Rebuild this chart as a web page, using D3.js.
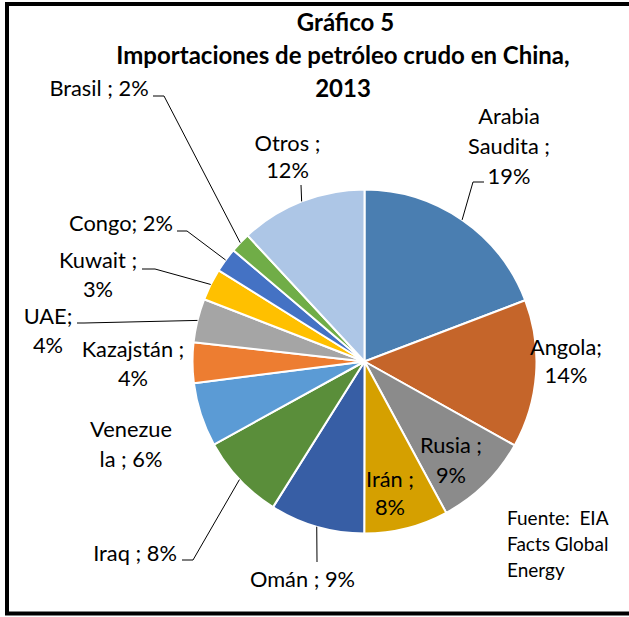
<!DOCTYPE html>
<html>
<head>
    <meta charset="utf-8">
    <title>Gráfico 5 - Importaciones de petróleo crudo en China, 2013</title>
    <script src="https://cdnjs.cloudflare.com/ajax/libs/d3/7.8.5/d3.min.js"></script>
    <style>
        body {
            margin: 0;
            background: #ffffff;
            overflow: hidden;
        }
        .title {
            font-family: Lato, "Liberation Sans", sans-serif;
            font-weight: bold;
            font-size: 24px;
            fill: #000;
        }
        .lbl {
            font-family: Lato, "Liberation Sans", sans-serif;
            font-size: 21.8px;
            fill: #000;
        }
        .src {
            font-family: Lato, "Liberation Sans", sans-serif;
            font-size: 19px;
            fill: #000;
        }
        .leader {
            fill: none;
            stroke: #000;
            stroke-width: 1;
        }
    </style>
</head>
<body>
    <svg id="chart"></svg>

    <script>
        const width = 629;
        const height = 617;

        // data (clockwise from 12 o'clock)
        const paises = ["Arabia Saudita", "Angola", "Rusia", "Irán", "Omán", "Iraq",
            "Venezuela", "Kazajstán", "UAE", "Kuwait", "Congo", "Brasil", "Otros"];
        const cuota = [19.2, 13.9, 9.0, 7.9, 8.9, 8.05, 6.0, 3.8, 4.1, 3.0, 2.3, 1.9, 11.9];
        // label text as Excel wrapped it; the percentage is appended
        const etiquetas = ["Arabia\nSaudita ;\n", "Angola;\n", "Rusia ;\n", "Irán ;\n", "Omán ; ",
            "Iraq ; ", "Venezue\nla ; ", "Kazajstán ;\n", "UAE;\n", "Kuwait ;\n", "Congo; ",
            "Brasil ; ", "Otros ;\n"];
        const colores = ["#4a7eb1", "#c5652a", "#8b8b8b", "#d5a000", "#375ea5", "#5a8e3a",
            "#5b9bd5", "#ed7d31", "#a5a5a5", "#ffc000", "#4472c4", "#70ad47", "#adc6e6"];
        const titulo = ["Gráfico 5", "Importaciones de petróleo crudo en China,", "2013"];
        const fuente = ["Fuente:  EIA", "Facts Global", "Energy"];

        // label layout (offsets from pie centre): text centre x, first baseline y, leader elbow, leader end
        const layout = [
            {x: 144.5, y: -238, lh: 30, elbow: [108.5, -179.5], end: [119.5, -179.5]},
            {x: 201.5, y: -6.5, lh: 28},
            {x: 86.5, y: 91.5, lh: 30},
            {x: 25.5, y: 125.5, lh: 28},
            {x: -62, y: 225.5, elbow: [-47.5, 200.5], end: [-47.5, 200.5]},
            {x: -229.5, y: 199.5, elbow: [-171.5, 198.5], end: [-182.5, 198.5]},
            {x: -233.5, y: 75.5, lh: 30},
            {x: -231.5, y: -4.5, lh: 29},
            {x: -316.5, y: -37.5, lh: 29, elbow: [-280.5, -38.5], end: [-287.5, -38.5]},
            {x: -266.5, y: -93.5, lh: 29, elbow: [-209.5, -92.5], end: [-222.5, -92.5]},
            {x: -243.5, y: -130.5, elbow: [-177.5, -130.5], end: [-187.5, -130.5]},
            {x: -265.5, y: -265.5, elbow: [-200.5, -265.5], end: [-211.5, -265.5]},
            {x: -77, y: -211, lh: 27, elbow: [-63.5, -176.5], end: [-63.5, -176.5]}
        ];

        const cx = 364.5, cy = 361.5, radius = 172;

        const svg = d3.select("#chart")
            .attr("width", width)
            .attr("height", height);

        // white chart area with thick black frame (right side runs off the picture)
        svg.append("rect")
            .attr("x", 7)
            .attr("y", 4)
            .attr("width", 640)
            .attr("height", 609.5)
            .attr("fill", "#fff")
            .attr("stroke", "#000")
            .attr("stroke-width", 4);

        // title
        svg.append("g")
            .selectAll("text")
            .data(titulo)
            .enter().append("text")
            .attr("class", "title")
            .attr("x", (d, i) => i === 0 ? 345.5 : 343)
            .attr("y", (d, i) => 31 + i * 33)
            .attr("text-anchor", "middle")
            .text(d => d);

        const pie = d3.pie().sort(null).value(d => d.v);
        const arcs = pie(paises.map((p, i) => ({pais: p, v: cuota[i], i: i})));

        const arc = d3.arc().innerRadius(0).outerRadius(radius);
        const rim = d3.arc().innerRadius(radius).outerRadius(radius);

        const g = svg.append("g")
            .attr("transform", `translate(${cx},${cy})`);

        g.append("g")
            .selectAll("path")
            .data(arcs)
            .enter().append("path")
            .attr("d", arc)
            .attr("fill", d => colores[d.data.i])
            .attr("stroke", "#fff")
            .attr("stroke-width", 2)
            .attr("stroke-linejoin", "round");

        // leader lines: from slice rim to the label
        g.append("g")
            .selectAll("polyline")
            .data(arcs.filter(d => layout[d.data.i].elbow))
            .enter().append("polyline")
            .attr("class", "leader")
            .attr("points", d => {
                const L = layout[d.data.i];
                return [rim.centroid(d), L.elbow, L.end].map(p => p.join(",")).join(" ");
            });

        // data labels
        const lbl = g.append("g")
            .selectAll("text")
            .data(arcs)
            .enter().append("text")
            .attr("class", "lbl")
            .attr("text-anchor", "middle");

        lbl.each(function(d) {
            const L = layout[d.data.i];
            const lines = (etiquetas[d.data.i] + Math.round(d.data.v) + "%").split("\n");
            d3.select(this).selectAll("tspan")
                .data(lines)
                .enter().append("tspan")
                .attr("x", L.x)
                .attr("y", (t, k) => L.y + k * (L.lh || 29))
                .text(t => t);
        });

        // source note
        svg.append("g")
            .selectAll("text")
            .data(fuente)
            .enter().append("text")
            .attr("class", "src")
            .attr("x", 507)
            .attr("y", (d, i) => 525 + i * 26)
            .attr("xml:space", "preserve")
            .text(d => d);
    </script>
</body>
</html>
